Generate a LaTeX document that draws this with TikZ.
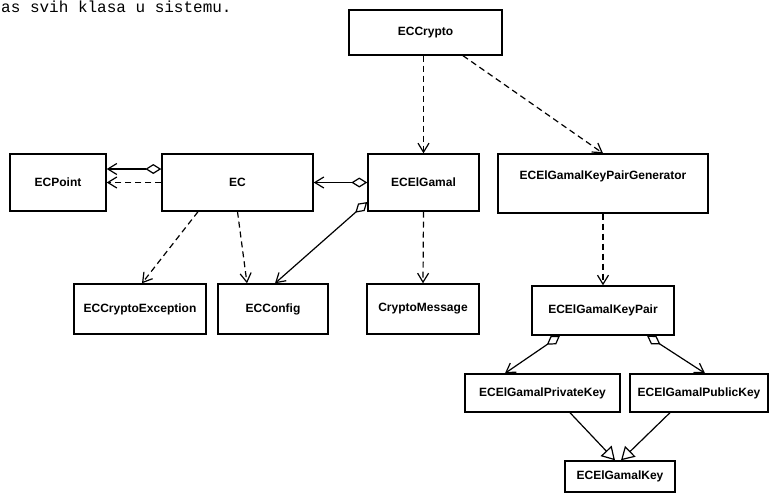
\documentclass[tikz,border=0pt]{standalone}
\usepackage{fontspec}
\newfontfamily\clsfont{Liberation Sans}
\newfontfamily\capfont{Liberation Mono}
\usepackage{tikz}
\usetikzlibrary{arrows.meta}
\tikzset{
  cls/.style={draw,line width=1.4pt,inner sep=0pt,font=\clsfont\fontsize{12}{14}\selectfont\bfseries},
  dep/.style={line width=1.2pt,dash pattern=on 6pt off 4pt,-{Straight Barb[length=9pt,width=11pt,line width=1.2pt]}},
  agg/.style={line width=1.2pt,{Diamond[open,length=16pt,width=10pt,fill=white]}-{Straight Barb[length=9pt,width=11pt,line width=1.2pt]}},
  inh/.style={line width=1.2pt,-{Triangle[open,length=13pt,width=15pt,fill=white]}}
}
\newcommand{\clsbox}[5]{\node[cls,minimum width=#3pt,minimum height=#4pt] (#1) at (#2) {#5};}

\begin{document}
\begin{tikzpicture}[x=1pt,y=-1pt]
\useasboundingbox (0,0) rectangle (774,496);
\node[anchor=base west,inner sep=0pt,font=\capfont\fontsize{16}{18}\selectfont] (cap) at (1,12) {as svih klasa u sistemu.};
% classes
\clsbox{crypto}{425.5,32.5}{153}{45}{ECCrypto}
\clsbox{point}{58,182.5}{96}{57}{ECPoint}
\clsbox{ec}{237.5,182.5}{151}{57}{EC}
\clsbox{elg}{423.5,182.5}{111}{57}{ECElGamal}
\node[cls,minimum width=210pt,minimum height=59pt,text depth=17pt] (gen) at (603,183.5) {ECElGamalKeyPairGenerator};
\clsbox{exc}{140,309}{132}{50}{ECCryptoException}
\clsbox{cfg}{273,309}{110}{50}{ECConfig}
\clsbox{msg}{423,309}{112}{50}{CryptoMessage}
\clsbox{pair}{603,310.5}{142}{49}{ECElGamalKeyPair}
\clsbox{priv}{542.5,393}{155}{38}{ECElGamalPrivateKey}
\clsbox{pub}{699,393}{138}{38}{ECElGamalPublicKey}
\clsbox{key}{620,476.5}{110}{31}{ECElGamalKey}
% dependencies
\draw[dep] (elg.north |- crypto.south) -- (elg.north);
\draw[dep] ([xshift=37.5pt]crypto.south) -- (gen.north);
\draw[dep] (ec.west) -- (point.east);
\draw[dep] ([xshift=-39.5pt]ec.south) -- ([xshift=2pt]exc.north);
\draw[dep] (ec.south) -- ([xshift=-26pt]cfg.north);
\draw[dep] (elg.south) -- (msg.north);
\draw[dep] (gen.south) -- (pair.north);
% aggregations
\draw[agg] ([yshift=13.5pt]ec.west) -- ([yshift=13.5pt]point.east);
\draw[agg] (elg.west) -- (ec.east);
\draw[agg] ([yshift=-19.5pt]elg.west) -- ([xshift=2pt]cfg.north);
\draw[agg] ([xshift=-43pt]pair.south) -- ([xshift=-37.5pt]priv.north);
\draw[agg] ([xshift=44pt]pair.south) -- ([xshift=6pt]pub.north);
% generalizations
\draw[inh] ([xshift=27.5pt]priv.south) -- ([xshift=-5pt]key.north);
\draw[inh] ([xshift=-29pt]pub.south) -- ([xshift=1pt]key.north);
\end{tikzpicture}
\end{document}
